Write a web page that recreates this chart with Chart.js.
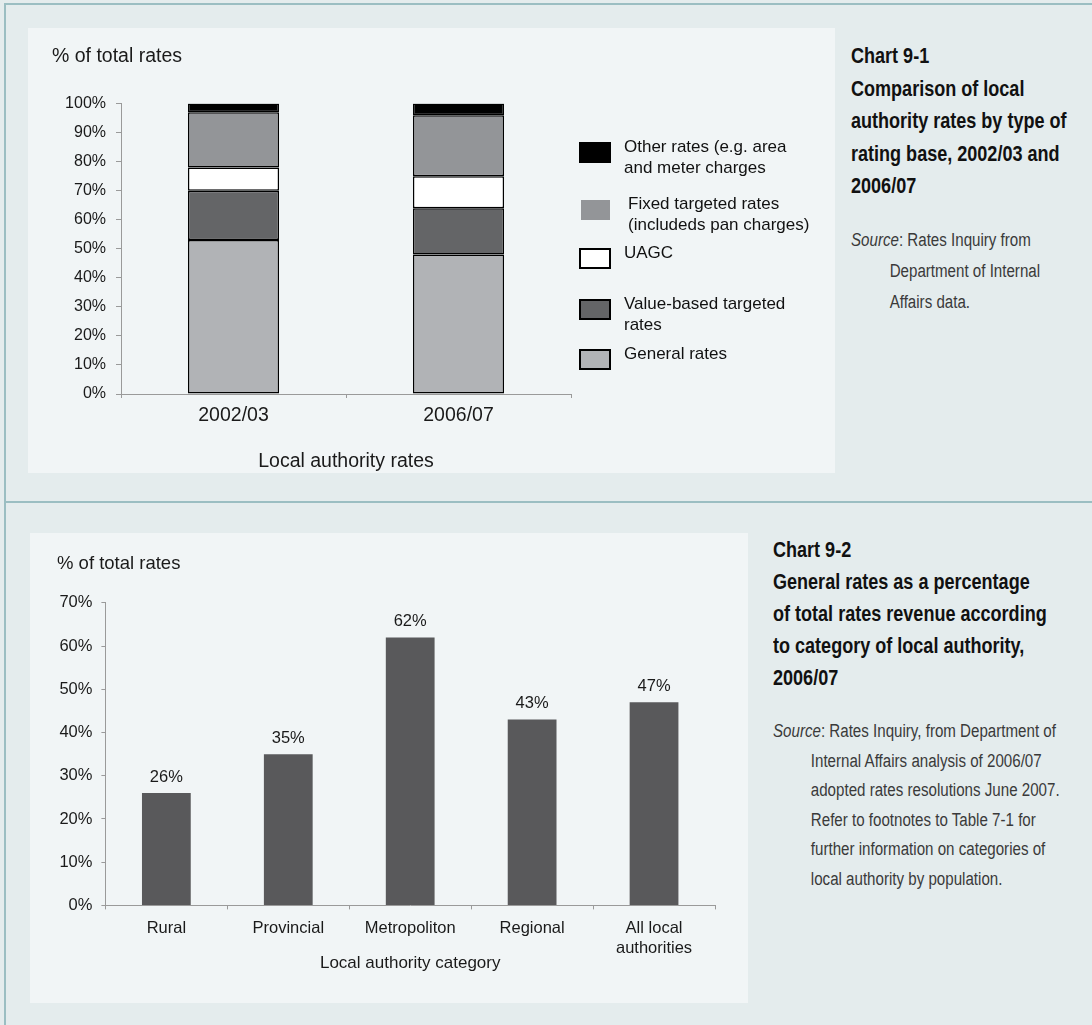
<!DOCTYPE html>
<html>
<head>
<meta charset="utf-8">
<script src="https://cdn.jsdelivr.net/npm/chart.js@4.4.1/dist/chart.umd.min.js"></script>
<style>
  html, body { margin: 0; padding: 0; }
  body {
    width: 1092px; height: 1025px; position: relative; overflow: hidden;
    background: #e4eced;
    font-family: 'Liberation Sans', Arial, sans-serif;
    color: #1a1a1a;
  }
  .rule { position: absolute; background: #9bbec2; }
  .plot { position: absolute; background: #f1f5f6; }
  .box { position: absolute; }
  /* narrow caption text: regular sans squeezed horizontally */
  .note { position: absolute; white-space: nowrap; }
  .note h2 { margin: 0; font-size: 22px; font-weight: bold; color: #111; transform: scaleX(0.82); transform-origin: 0 0; }
  .note p { margin: 0; font-size: 18px; color: #3a3a3a; transform: scaleX(0.84); transform-origin: 0 0; }
  .legend-item { position: absolute; left: 0; }
  .legend-swatch { position: absolute; box-sizing: border-box; }
  .legend-text { position: absolute; font-size: 17px; line-height: 21px; white-space: pre-line; color: #111; }
</style>
</head>
<body>

<div class="rule" style="left:4px; top:3px; width:1088px; height:2px;"></div>
<div class="rule" style="left:4px; top:3px; width:2px; height:1022px;"></div>
<div class="rule" style="left:4px; top:501px; width:1088px; height:2px;"></div>

<!-- chart 9-1 -->
<div class="plot" style="left:28px; top:28px; width:807px; height:445px;"></div>
<div class="box" style="left:28px; top:28px; width:552px; height:445px;"><canvas id="chart1"></canvas></div>
<div id="legend1" class="box" style="left:579px; top:0; width:250px; height:400px;"></div>

<div class="note" style="left:851px; top:40px;">
  <h2 style="line-height:32.5px;">Chart 9-1<br>Comparison of local<br>authority rates by type of<br>rating base, 2002/03 and<br>2006/07</h2>
</div>
<div class="note" style="left:851px; top:225px;">
  <p style="line-height:31px; padding-left:46px; text-indent:-46px;"><i>Source</i>: Rates Inquiry from<br>Department of Internal<br>Affairs data.</p>
</div>

<!-- chart 9-2 -->
<div class="plot" style="left:30px; top:533px; width:718px; height:470px;"></div>
<div class="box" style="left:30px; top:533px; width:718px; height:470px;"><canvas id="chart2"></canvas></div>

<div class="note" style="left:773px; top:534px;">
  <h2 style="line-height:32px;">Chart 9-2<br>General rates as a percentage<br>of total rates revenue according<br>to category of local authority,<br>2006/07</h2>
</div>
<div class="note" style="left:773px; top:717px;">
  <p style="line-height:29.5px; padding-left:45px; text-indent:-45px;"><i>Source</i>: Rates Inquiry, from Department of<br>Internal Affairs analysis of 2006/07<br>adopted rates resolutions June 2007.<br>Refer to footnotes to Table 7-1 for<br>further information on categories of<br>local authority by population.</p>
</div>

<script>
// ---- chart 9-1 data: share of total rates by rating base (stack bottom to top)
const years = ['2002/03', '2006/07'];
const generalRates = [53, 48];
const valueBasedRates = [17, 16];
const uagcRates = [8, 11];
const fixedTargetedRates = [19, 21];
const otherRates = [3, 4];

const rateTypes = ['General rates', 'Value-based targeted\nrates', 'UAGC',
  'Fixed targeted rates\n(includeds pan charges)', 'Other rates (e.g. area\nand meter charges'];
const rateColors = ['#b1b3b6', '#646567', '#ffffff', '#939598', '#000000'];
const pctTicks1 = [0, 10, 20, 30, 40, 50, 60, 70, 80, 90, 100];

// ---- chart 9-2 data: general rates as % of total rates, 2006/07
const categories = ['Rural', 'Provincial', 'Metropoliton', 'Regional', ['All local', 'authorities']];
const generalShare = [26, 35, 62, 43, 47];
const pctTicks2 = [0, 10, 20, 30, 40, 50, 60, 70];

Chart.defaults.font.family = "'Liberation Sans', Arial, sans-serif";
Chart.defaults.color = '#1a1a1a';
Chart.defaults.animation = false;

const axisGrey = '#9a9a9a';
const pct = (v) => v + '%';

// value labels above each bar
const barValueLabels = {
    id: 'barValueLabels',
    afterDatasetsDraw(chart) {
        const ctx = chart.ctx;
        ctx.save();
        ctx.font = "16.5px 'Liberation Sans', Arial, sans-serif";
        ctx.fillStyle = '#1a1a1a';
        ctx.textAlign = 'center';
        ctx.textBaseline = 'middle';
        chart.getDatasetMeta(0).data.forEach((bar, i) => {
            ctx.fillText(pct(chart.data.datasets[0].data[i]), bar.x, bar.y - 16);
        });
        ctx.restore();
    }
};

// CHART 9-1
const stackSeries = [generalRates, valueBasedRates, uagcRates, fixedTargetedRates, otherRates];
const chart1 = new Chart(document.querySelector('#chart1'), {
    type: 'bar',
    data: {
        labels: years,
        datasets: stackSeries.map((values, i) => ({
            label: rateTypes[i],
            data: values,
            backgroundColor: rateColors[i],
            borderColor: '#000',
            borderWidth: 1.5,
            borderSkipped: false,
            inflateAmount: 0,
            barPercentage: 0.405,
            categoryPercentage: 1.0,
        })),
    },
    options: {
        responsive: true,
        maintainAspectRatio: false,
        layout: { padding: { left: 24, right: 9, top: 0, bottom: 0 } },
        scales: {
            x: {
                stacked: true,
                grid: { drawOnChartArea: false, color: axisGrey, tickLength: 4 },
                border: { color: axisGrey },
                ticks: { font: { size: 19.5 }, padding: 6 },
                title: {
                    display: true,
                    text: 'Local authority rates',
                    font: { size: 19.5 },
                    padding: { top: 0, bottom: 0 },
                },
                afterFit: (s) => { s.height = 79; },
            },
            y: {
                stacked: true,
                min: 0,
                max: 100,
                afterBuildTicks: (s) => { s.ticks = pctTicks1.map(v => ({ value: v })); },
                grid: { drawOnChartArea: false, color: axisGrey, tickLength: 5 },
                border: { color: axisGrey },
                ticks: { font: { size: 16 }, padding: 10, callback: pct },
                afterFit: (s) => { s.width = 69; },
            },
        },
        plugins: {
            legend: { display: false },
            tooltip: { enabled: false },
            title: {
                display: true,
                text: '% of total rates',
                align: 'start',
                color: '#1a1a1a',
                font: { size: 19.5, weight: 'normal' },
                padding: { top: 17.3, bottom: 34.9 },
            },
        },
    },
});

// legend for chart 9-1, top item is the top of the stack
const legendTops = [142, 199, 248, 299, 349];
const legend1 = document.querySelector('#legend1');
rateTypes.slice().reverse().forEach((name, k) => {
    const i = rateTypes.length - 1 - k;
    const item = document.createElement('div');
    item.className = 'legend-item';
    item.style.top = legendTops[k] + 'px';
    const sw = document.createElement('div');
    sw.className = 'legend-swatch';
    sw.style.background = rateColors[i];
    if (i === 3) {
        // fixed targeted rates swatch has no outline
        Object.assign(sw.style, { left: '2px', top: '1px', width: '29px', height: '20px' });
    } else {
        Object.assign(sw.style, { left: '0px', top: '0px', width: '32px', height: '21px', border: '2px solid #000' });
    }
    const tx = document.createElement('div');
    tx.className = 'legend-text';
    tx.textContent = name;
    tx.style.left = (i === 3 ? 49 : 45) + 'px';
    tx.style.top = '-6px';
    tx.style.width = '200px';
    item.appendChild(sw);
    item.appendChild(tx);
    legend1.appendChild(item);
});

// CHART 9-2
// y labels are clipped to the scale box, so the axis box starts left of "70%"
const chart2 = new Chart(document.querySelector('#chart2'), {
    type: 'bar',
    data: {
        labels: categories,
        datasets: [{
            label: 'General rates',
            data: generalShare,
            backgroundColor: '#59595b',
            borderWidth: 0,
            inflateAmount: 0,
            barPercentage: 0.4,
            categoryPercentage: 1.0,
        }],
    },
    options: {
        responsive: true,
        maintainAspectRatio: false,
        layout: { padding: { left: 27, right: 33, top: 0, bottom: 0 } },
        scales: {
            x: {
                grid: { drawOnChartArea: false, color: axisGrey, tickLength: 4 },
                border: { color: axisGrey },
                ticks: { font: { size: 16.5 }, padding: 9 },
                title: {
                    display: true,
                    text: 'Local authority category',
                    font: { size: 17 },
                    padding: { top: 0, bottom: 29.8 },
                },
                afterFit: (s) => { s.height = 97.6; },
            },
            y: {
                min: 0,
                max: 70,
                afterBuildTicks: (s) => { s.ticks = pctTicks2.map(v => ({ value: v })); },
                grid: { drawOnChartArea: false, color: axisGrey, tickLength: 4 },
                border: { color: axisGrey },
                ticks: { font: { size: 16.5 }, padding: 9, callback: pct },
                afterFit: (s) => { s.width = 48.4; },
            },
        },
        plugins: {
            legend: { display: false },
            tooltip: { enabled: false },
            title: {
                display: true,
                text: '% of total rates',
                align: 'start',
                color: '#1a1a1a',
                font: { size: 18.5, weight: 'normal' },
                padding: { top: 19.5, bottom: 28.2 },
            },
        },
    },
    plugins: [barValueLabels],
});
</script>
</body>
</html>
